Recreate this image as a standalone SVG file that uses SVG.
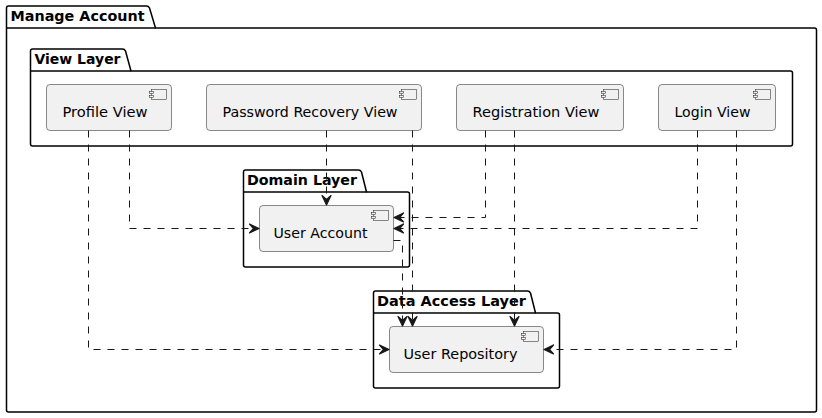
<svg xmlns="http://www.w3.org/2000/svg" width="822" height="418" viewBox="0 0 822 418">
<style>
text{font-family:"DejaVu Sans",sans-serif;font-size:14px;fill:#000}
.p{fill:none;stroke:#000;stroke-width:1.5;stroke-linejoin:round}
.pt{font-weight:bold}
.c{fill:#F1F1F1;stroke:#181818;stroke-width:.5}
.i{fill:#F1F1F1;stroke:#181818;stroke-width:.5}
.l{fill:none;stroke:#181818;stroke-width:1;stroke-dasharray:7,7}
.a{fill:#181818;stroke:#181818;stroke-width:1.2;stroke-linejoin:round}
</style>
<defs>
<g id="icon"><rect class="i" x="-15" y="0" width="15" height="10"/><rect class="i" x="-17" y="2" width="4" height="2"/><rect class="i" x="-17" y="6" width="4" height="2"/></g>
<path id="ah" class="a" d="M-0.5,0L-10,-4.5L-6,0L-10,4.5Z"/>
</defs>
<g id="pkg-manage-account"><path class="p" d="M8.5,6H146.5Q148.5,6 149.5,8L155.5,28H814.5Q816.5,28 816.5,30V410Q816.5,412 814.5,412H8.5Q6.5,412 6.5,410V8Q6.5,6 8.5,6Z"/><path class="p" d="M6.5,28H155.5"/><text class="pt" x="10.5" y="21" textLength="134" lengthAdjust="spacingAndGlyphs">Manage Account</text></g>
<g id="pkg-view-layer"><path class="p" d="M32.5,49H122.5Q124.5,49 125.5,51L131,71H790.5Q792.5,71 792.5,73V144Q792.5,146 790.5,146H32.5Q30.5,146 30.5,144V51Q30.5,49 32.5,49Z"/><path class="p" d="M30.5,71H131"/><text class="pt" x="34.5" y="64" textLength="86" lengthAdjust="spacingAndGlyphs">View Layer</text></g>
<g id="pkg-domain-layer"><path class="p" d="M245.5,170H358.5Q360.5,170 361.5,172L366.5,192H407.5Q409.5,192 409.5,194V265Q409.5,267 407.5,267H245.5Q243.5,267 243.5,265V172Q243.5,170 245.5,170Z"/><path class="p" d="M243.5,192H366.5"/><text class="pt" x="247" y="185" textLength="110" lengthAdjust="spacingAndGlyphs">Domain Layer</text></g>
<g id="pkg-data-access-layer"><path class="p" d="M375.5,291H527.5Q529.5,291 530.5,293L535.5,313H557.5Q559.5,313 559.5,315V386Q559.5,388 557.5,388H375.5Q373.5,388 373.5,386V293Q373.5,291 375.5,291Z"/><path class="p" d="M373.5,313H535.5"/><text class="pt" x="377" y="306" textLength="149" lengthAdjust="spacingAndGlyphs">Data Access Layer</text></g>
<g id="profile-view"><rect class="c" x="46.5" y="84.5" width="125" height="46" rx="3.5"/><use href="#icon" x="166.5" y="89.5"/><text x="62.5" y="117" textLength="85" lengthAdjust="spacingAndGlyphs">Profile View</text></g>
<g id="password-recovery-view"><rect class="c" x="206.5" y="84.5" width="215" height="46" rx="3.5"/><use href="#icon" x="416.5" y="89.5"/><text x="222.5" y="117" textLength="175" lengthAdjust="spacingAndGlyphs">Password Recovery View</text></g>
<g id="registration-view"><rect class="c" x="456.5" y="84.5" width="167" height="46" rx="3.5"/><use href="#icon" x="618.5" y="89.5"/><text x="472.5" y="117" textLength="127" lengthAdjust="spacingAndGlyphs">Registration View</text></g>
<g id="login-view"><rect class="c" x="658.5" y="84.5" width="117" height="46" rx="3.5"/><use href="#icon" x="770.5" y="89.5"/><text x="674.5" y="117" textLength="76" lengthAdjust="spacingAndGlyphs">Login View</text></g>
<g id="user-account"><rect class="c" x="259.5" y="205.5" width="134" height="46" rx="3.5"/><use href="#icon" x="388.5" y="210.5"/><text x="273.5" y="238" textLength="94" lengthAdjust="spacingAndGlyphs">User Account</text></g>
<g id="user-repository"><rect class="c" x="389.5" y="326.5" width="154" height="46" rx="3.5"/><use href="#icon" x="538.5" y="331.5"/><text x="403.5" y="359" textLength="114" lengthAdjust="spacingAndGlyphs">User Repository</text></g>
<g id="connectors">
<path class="l" d="M129.5,130.5V228.5H254"/><use href="#ah" x="259.5" y="228.5"/>
<path class="l" d="M88.5,130.5V349.5H384"/><use href="#ah" x="389.5" y="349.5"/>
<path class="l" d="M326.5,130.5V200"/><use href="#ah" transform="translate(326.5,205.5) rotate(90)"/>
<path class="l" d="M412.5,130.5V321"/><use href="#ah" transform="translate(412.5,326.5) rotate(90)"/>
<path class="l" d="M485.5,130.5V217.5H399"/><use href="#ah" transform="translate(393.5,217.5) rotate(180)"/>
<path class="l" d="M514.5,130.5V321"/><use href="#ah" transform="translate(514.5,326.5) rotate(90)"/>
<path class="l" d="M697.5,130.5V228.5H399"/><use href="#ah" transform="translate(393.5,228.5) rotate(180)"/>
<path class="l" d="M736.5,130.5V349.5H549"/><use href="#ah" transform="translate(543.5,349.5) rotate(180)"/>
<path class="l" d="M393.5,240.5H402.5V321"/><use href="#ah" transform="translate(402.5,326.5) rotate(90)"/>
</g>
</svg>
